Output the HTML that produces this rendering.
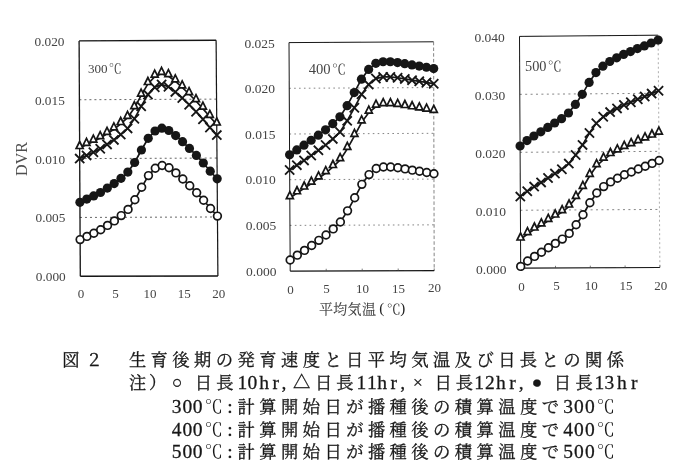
<!DOCTYPE html>
<html lang="ja"><head><meta charset="utf-8"><title>図2 生育後期の発育速度と日平均気温及び日長との関係</title>
<style>
html,body{margin:0;padding:0;background:#fff;}
body{width:700px;height:467px;overflow:hidden;font-family:"Liberation Serif",serif;}
svg{display:block;font-family:"Liberation Serif",serif;}
svg text{font-family:"Liberation Serif","Noto Serif CJK JP","Noto Serif CJK SC","Noto Sans CJK JP",serif;}
</style></head><body>
<svg width="700" height="467" viewBox="0 0 700 467">
<desc>図２　生育後期の発育速度と日平均気温及び日長との関係　注）○日長10hr, △日長11hr, ×日長12hr, ●日長13hr　300℃:計算開始日が播種後の積算温度で300℃　400℃:計算開始日が播種後の積算温度で400℃　500℃:計算開始日が播種後の積算温度で500℃</desc>
<rect width="700" height="467" fill="#fff"/>
<defs><filter id="soft" x="0" y="0" width="700" height="467" filterUnits="userSpaceOnUse"><feGaussianBlur stdDeviation="0.32"/></filter></defs>
<g filter="url(#soft)">
<line x1="79.40" y1="99.75" x2="216.55" y2="99.12" stroke="#555" stroke-width="0.9" stroke-dasharray="2 3"/>
<line x1="79.70" y1="158.60" x2="217.00" y2="158.05" stroke="#555" stroke-width="0.9" stroke-dasharray="2 3"/>
<line x1="80.00" y1="217.45" x2="217.45" y2="216.97" stroke="#555" stroke-width="0.9" stroke-dasharray="2 3"/>
<line x1="79.10" y1="40.90" x2="216.10" y2="40.20" stroke="#141414" stroke-width="1.4"/>
<line x1="216.10" y1="40.20" x2="217.90" y2="275.90" stroke="#141414" stroke-width="1.2"/>
<line x1="80.30" y1="276.30" x2="217.90" y2="275.90" stroke="#141414" stroke-width="1.5"/>
<line x1="79.10" y1="40.90" x2="80.30" y2="276.30" stroke="#141414" stroke-width="1.3"/>
<polyline fill="none" stroke="#141414" stroke-width="1.7" points="80.11,239.60 86.97,236.40 93.83,233.20 100.69,229.80 107.54,225.40 114.38,220.90 121.22,215.60 128.06,209.40 134.87,199.80 141.67,187.30 148.46,175.60 155.28,168.30 162.13,165.50 169.01,167.80 175.91,172.90 182.82,179.00 189.74,185.70 196.66,192.70 203.58,200.30 210.51,208.50 217.44,216.10"/>
<circle cx="80.11" cy="239.60" r="3.85" fill="#fff" stroke="#141414" stroke-width="1.7"/>
<circle cx="86.97" cy="236.40" r="3.85" fill="#fff" stroke="#141414" stroke-width="1.7"/>
<circle cx="93.83" cy="233.20" r="3.85" fill="#fff" stroke="#141414" stroke-width="1.7"/>
<circle cx="100.69" cy="229.80" r="3.85" fill="#fff" stroke="#141414" stroke-width="1.7"/>
<circle cx="107.54" cy="225.40" r="3.85" fill="#fff" stroke="#141414" stroke-width="1.7"/>
<circle cx="114.38" cy="220.90" r="3.85" fill="#fff" stroke="#141414" stroke-width="1.7"/>
<circle cx="121.22" cy="215.60" r="3.85" fill="#fff" stroke="#141414" stroke-width="1.7"/>
<circle cx="128.06" cy="209.40" r="3.85" fill="#fff" stroke="#141414" stroke-width="1.7"/>
<circle cx="134.87" cy="199.80" r="3.85" fill="#fff" stroke="#141414" stroke-width="1.7"/>
<circle cx="141.67" cy="187.30" r="3.85" fill="#fff" stroke="#141414" stroke-width="1.7"/>
<circle cx="148.46" cy="175.60" r="3.85" fill="#fff" stroke="#141414" stroke-width="1.7"/>
<circle cx="155.28" cy="168.30" r="3.85" fill="#fff" stroke="#141414" stroke-width="1.7"/>
<circle cx="162.13" cy="165.50" r="3.85" fill="#fff" stroke="#141414" stroke-width="1.7"/>
<circle cx="169.01" cy="167.80" r="3.85" fill="#fff" stroke="#141414" stroke-width="1.7"/>
<circle cx="175.91" cy="172.90" r="3.85" fill="#fff" stroke="#141414" stroke-width="1.7"/>
<circle cx="182.82" cy="179.00" r="3.85" fill="#fff" stroke="#141414" stroke-width="1.7"/>
<circle cx="189.74" cy="185.70" r="3.85" fill="#fff" stroke="#141414" stroke-width="1.7"/>
<circle cx="196.66" cy="192.70" r="3.85" fill="#fff" stroke="#141414" stroke-width="1.7"/>
<circle cx="203.58" cy="200.30" r="3.85" fill="#fff" stroke="#141414" stroke-width="1.7"/>
<circle cx="210.51" cy="208.50" r="3.85" fill="#fff" stroke="#141414" stroke-width="1.7"/>
<circle cx="217.44" cy="216.10" r="3.85" fill="#fff" stroke="#141414" stroke-width="1.7"/>
<polyline fill="none" stroke="#141414" stroke-width="1.7" points="79.65,147.90 86.49,144.70 93.34,141.50 100.18,138.10 107.02,133.70 113.86,129.20 120.69,123.90 127.51,117.70 134.31,108.10 141.09,95.60 147.88,83.90 154.68,76.60 161.52,73.80 168.39,76.10 175.28,81.20 182.18,87.30 189.08,94.00 195.99,101.00 202.90,108.60 209.83,116.80 216.74,124.40"/>
<path d="M79.65 141.50L83.15 148.50L76.15 148.50Z" fill="#fff" stroke="#141414" stroke-width="1.7" stroke-linejoin="miter"/>
<path d="M86.49 138.30L89.99 145.30L82.99 145.30Z" fill="#fff" stroke="#141414" stroke-width="1.7" stroke-linejoin="miter"/>
<path d="M93.34 135.10L96.84 142.10L89.84 142.10Z" fill="#fff" stroke="#141414" stroke-width="1.7" stroke-linejoin="miter"/>
<path d="M100.18 131.70L103.68 138.70L96.68 138.70Z" fill="#fff" stroke="#141414" stroke-width="1.7" stroke-linejoin="miter"/>
<path d="M107.02 127.30L110.52 134.30L103.52 134.30Z" fill="#fff" stroke="#141414" stroke-width="1.7" stroke-linejoin="miter"/>
<path d="M113.86 122.80L117.36 129.80L110.36 129.80Z" fill="#fff" stroke="#141414" stroke-width="1.7" stroke-linejoin="miter"/>
<path d="M120.69 117.50L124.19 124.50L117.19 124.50Z" fill="#fff" stroke="#141414" stroke-width="1.7" stroke-linejoin="miter"/>
<path d="M127.51 111.30L131.01 118.30L124.01 118.30Z" fill="#fff" stroke="#141414" stroke-width="1.7" stroke-linejoin="miter"/>
<path d="M134.31 101.70L137.81 108.70L130.81 108.70Z" fill="#fff" stroke="#141414" stroke-width="1.7" stroke-linejoin="miter"/>
<path d="M141.09 89.20L144.59 96.20L137.59 96.20Z" fill="#fff" stroke="#141414" stroke-width="1.7" stroke-linejoin="miter"/>
<path d="M147.88 77.50L151.38 84.50L144.38 84.50Z" fill="#fff" stroke="#141414" stroke-width="1.7" stroke-linejoin="miter"/>
<path d="M154.68 70.20L158.18 77.20L151.18 77.20Z" fill="#fff" stroke="#141414" stroke-width="1.7" stroke-linejoin="miter"/>
<path d="M161.52 67.40L165.02 74.40L158.02 74.40Z" fill="#fff" stroke="#141414" stroke-width="1.7" stroke-linejoin="miter"/>
<path d="M168.39 69.70L171.89 76.70L164.89 76.70Z" fill="#fff" stroke="#141414" stroke-width="1.7" stroke-linejoin="miter"/>
<path d="M175.28 74.80L178.78 81.80L171.78 81.80Z" fill="#fff" stroke="#141414" stroke-width="1.7" stroke-linejoin="miter"/>
<path d="M182.18 80.90L185.68 87.90L178.68 87.90Z" fill="#fff" stroke="#141414" stroke-width="1.7" stroke-linejoin="miter"/>
<path d="M189.08 87.60L192.58 94.60L185.58 94.60Z" fill="#fff" stroke="#141414" stroke-width="1.7" stroke-linejoin="miter"/>
<path d="M195.99 94.60L199.49 101.60L192.49 101.60Z" fill="#fff" stroke="#141414" stroke-width="1.7" stroke-linejoin="miter"/>
<path d="M202.90 102.20L206.40 109.20L199.40 109.20Z" fill="#fff" stroke="#141414" stroke-width="1.7" stroke-linejoin="miter"/>
<path d="M209.83 110.40L213.33 117.40L206.33 117.40Z" fill="#fff" stroke="#141414" stroke-width="1.7" stroke-linejoin="miter"/>
<path d="M216.74 118.00L220.24 125.00L213.24 125.00Z" fill="#fff" stroke="#141414" stroke-width="1.7" stroke-linejoin="miter"/>
<polyline fill="none" stroke="#141414" stroke-width="1.7" points="79.70,158.60 86.55,155.40 93.40,152.20 100.24,148.80 107.08,144.40 113.92,139.90 120.75,134.60 127.58,128.40 134.38,118.80 141.16,106.30 147.94,94.60 154.75,87.30 161.59,84.50 168.46,86.80 175.35,91.90 182.25,98.00 189.16,104.70 196.07,111.70 202.98,119.30 209.91,127.50 216.82,135.10"/>
<path d="M75.10 154.00L84.30 163.20M75.10 163.20L84.30 154.00" fill="none" stroke="#141414" stroke-width="1.8"/>
<path d="M81.95 150.80L91.15 160.00M81.95 160.00L91.15 150.80" fill="none" stroke="#141414" stroke-width="1.8"/>
<path d="M88.80 147.60L98.00 156.80M88.80 156.80L98.00 147.60" fill="none" stroke="#141414" stroke-width="1.8"/>
<path d="M95.64 144.20L104.84 153.40M95.64 153.40L104.84 144.20" fill="none" stroke="#141414" stroke-width="1.8"/>
<path d="M102.48 139.80L111.68 149.00M102.48 149.00L111.68 139.80" fill="none" stroke="#141414" stroke-width="1.8"/>
<path d="M109.32 135.30L118.52 144.50M109.32 144.50L118.52 135.30" fill="none" stroke="#141414" stroke-width="1.8"/>
<path d="M116.15 130.00L125.35 139.20M116.15 139.20L125.35 130.00" fill="none" stroke="#141414" stroke-width="1.8"/>
<path d="M122.98 123.80L132.18 133.00M122.98 133.00L132.18 123.80" fill="none" stroke="#141414" stroke-width="1.8"/>
<path d="M129.78 114.20L138.98 123.40M129.78 123.40L138.98 114.20" fill="none" stroke="#141414" stroke-width="1.8"/>
<path d="M136.56 101.70L145.76 110.90M136.56 110.90L145.76 101.70" fill="none" stroke="#141414" stroke-width="1.8"/>
<path d="M143.34 90.00L152.54 99.20M143.34 99.20L152.54 90.00" fill="none" stroke="#141414" stroke-width="1.8"/>
<path d="M150.15 82.70L159.35 91.90M150.15 91.90L159.35 82.70" fill="none" stroke="#141414" stroke-width="1.8"/>
<path d="M156.99 79.90L166.19 89.10M156.99 89.10L166.19 79.90" fill="none" stroke="#141414" stroke-width="1.8"/>
<path d="M163.86 82.20L173.06 91.40M163.86 91.40L173.06 82.20" fill="none" stroke="#141414" stroke-width="1.8"/>
<path d="M170.75 87.30L179.95 96.50M170.75 96.50L179.95 87.30" fill="none" stroke="#141414" stroke-width="1.8"/>
<path d="M177.65 93.40L186.85 102.60M177.65 102.60L186.85 93.40" fill="none" stroke="#141414" stroke-width="1.8"/>
<path d="M184.56 100.10L193.76 109.30M184.56 109.30L193.76 100.10" fill="none" stroke="#141414" stroke-width="1.8"/>
<path d="M191.47 107.10L200.67 116.30M191.47 116.30L200.67 107.10" fill="none" stroke="#141414" stroke-width="1.8"/>
<path d="M198.38 114.70L207.58 123.90M198.38 123.90L207.58 114.70" fill="none" stroke="#141414" stroke-width="1.8"/>
<path d="M205.31 122.90L214.51 132.10M205.31 132.10L214.51 122.90" fill="none" stroke="#141414" stroke-width="1.8"/>
<path d="M212.22 130.50L221.42 139.70M212.22 139.70L221.42 130.50" fill="none" stroke="#141414" stroke-width="1.8"/>
<polyline fill="none" stroke="#141414" stroke-width="1.7" points="79.92,202.30 86.78,199.10 93.63,195.90 100.48,192.50 107.33,188.10 114.17,183.60 121.01,178.30 127.84,172.10 134.65,162.50 141.43,150.00 148.22,138.30 155.04,131.00 161.88,128.20 168.76,130.50 175.65,135.60 182.56,141.70 189.47,148.40 196.39,155.40 203.31,163.00 210.23,171.20 217.16,178.80"/>
<circle cx="79.92" cy="202.30" r="4.6" fill="#141414"/>
<circle cx="86.78" cy="199.10" r="4.6" fill="#141414"/>
<circle cx="93.63" cy="195.90" r="4.6" fill="#141414"/>
<circle cx="100.48" cy="192.50" r="4.6" fill="#141414"/>
<circle cx="107.33" cy="188.10" r="4.6" fill="#141414"/>
<circle cx="114.17" cy="183.60" r="4.6" fill="#141414"/>
<circle cx="121.01" cy="178.30" r="4.6" fill="#141414"/>
<circle cx="127.84" cy="172.10" r="4.6" fill="#141414"/>
<circle cx="134.65" cy="162.50" r="4.6" fill="#141414"/>
<circle cx="141.43" cy="150.00" r="4.6" fill="#141414"/>
<circle cx="148.22" cy="138.30" r="4.6" fill="#141414"/>
<circle cx="155.04" cy="131.00" r="4.6" fill="#141414"/>
<circle cx="161.88" cy="128.20" r="4.6" fill="#141414"/>
<circle cx="168.76" cy="130.50" r="4.6" fill="#141414"/>
<circle cx="175.65" cy="135.60" r="4.6" fill="#141414"/>
<circle cx="182.56" cy="141.70" r="4.6" fill="#141414"/>
<circle cx="189.47" cy="148.40" r="4.6" fill="#141414"/>
<circle cx="196.39" cy="155.40" r="4.6" fill="#141414"/>
<circle cx="203.31" cy="163.00" r="4.6" fill="#141414"/>
<circle cx="210.23" cy="171.20" r="4.6" fill="#141414"/>
<circle cx="217.16" cy="178.80" r="4.6" fill="#141414"/>
<text x="34.60" y="45.70" font-size="13.3" fill="#444">0.020</text>
<text x="34.90" y="104.63" font-size="13.3" fill="#444">0.015</text>
<text x="35.20" y="163.56" font-size="13.3" fill="#444">0.010</text>
<text x="35.50" y="222.49" font-size="13.3" fill="#444">0.005</text>
<text x="35.80" y="281.42" font-size="13.3" fill="#444">0.000</text>
<text x="81.10" y="298.00" font-size="13" fill="#444" text-anchor="middle">0</text>
<text x="115.50" y="298.00" font-size="13" fill="#444" text-anchor="middle">5</text>
<text x="149.90" y="298.00" font-size="13" fill="#444" text-anchor="middle">10</text>
<text x="184.30" y="298.00" font-size="13" fill="#444" text-anchor="middle">15</text>
<text x="218.70" y="298.00" font-size="13" fill="#444" text-anchor="middle">20</text>
<text x="87.90" y="72.90" font-size="13.1" fill="#444">300</text>
<text x="108.70" y="73.10" font-size="13" fill="#444">℃</text>
<line x1="289.24" y1="88.30" x2="433.72" y2="87.56" stroke="#777" stroke-width="0.9" stroke-dasharray="1.6 3.3"/>
<line x1="289.48" y1="134.00" x2="433.84" y2="133.32" stroke="#777" stroke-width="0.9" stroke-dasharray="1.6 3.3"/>
<line x1="289.72" y1="179.70" x2="433.96" y2="179.08" stroke="#777" stroke-width="0.9" stroke-dasharray="1.6 3.3"/>
<line x1="289.96" y1="225.40" x2="434.08" y2="224.84" stroke="#777" stroke-width="0.9" stroke-dasharray="1.6 3.3"/>
<line x1="289.00" y1="42.60" x2="433.60" y2="41.80" stroke="#141414" stroke-width="1.0"/>
<line x1="433.60" y1="41.80" x2="434.20" y2="270.60" stroke="#777" stroke-width="0.9" stroke-dasharray="3.5 2.2"/>
<line x1="290.20" y1="271.10" x2="434.20" y2="270.60" stroke="#141414" stroke-width="1.2"/>
<line x1="289.00" y1="42.60" x2="290.20" y2="271.10" stroke="#141414" stroke-width="1.0"/>
<line x1="326.20" y1="268.78" x2="326.20" y2="270.98" stroke="#444" stroke-width="0.7"/>
<line x1="362.20" y1="268.65" x2="362.20" y2="270.85" stroke="#444" stroke-width="0.7"/>
<line x1="398.20" y1="268.53" x2="398.20" y2="270.73" stroke="#444" stroke-width="0.7"/>
<line x1="434.20" y1="268.40" x2="434.20" y2="270.60" stroke="#444" stroke-width="0.7"/>
<polyline fill="none" stroke="#141414" stroke-width="1.7" points="290.14,260.05 297.32,255.15 304.50,250.40 311.68,245.45 318.86,240.35 326.03,235.05 333.21,228.90 340.39,222.05 347.55,210.85 354.70,197.80 361.86,184.35 369.03,174.60 376.22,168.55 383.43,166.95 390.65,166.95 397.86,167.75 405.08,168.90 412.30,170.15 419.51,171.30 426.73,172.45 433.95,173.80"/>
<circle cx="290.14" cy="260.05" r="3.85" fill="#fff" stroke="#141414" stroke-width="1.7"/>
<circle cx="297.32" cy="255.15" r="3.85" fill="#fff" stroke="#141414" stroke-width="1.7"/>
<circle cx="304.50" cy="250.40" r="3.85" fill="#fff" stroke="#141414" stroke-width="1.7"/>
<circle cx="311.68" cy="245.45" r="3.85" fill="#fff" stroke="#141414" stroke-width="1.7"/>
<circle cx="318.86" cy="240.35" r="3.85" fill="#fff" stroke="#141414" stroke-width="1.7"/>
<circle cx="326.03" cy="235.05" r="3.85" fill="#fff" stroke="#141414" stroke-width="1.7"/>
<circle cx="333.21" cy="228.90" r="3.85" fill="#fff" stroke="#141414" stroke-width="1.7"/>
<circle cx="340.39" cy="222.05" r="3.85" fill="#fff" stroke="#141414" stroke-width="1.7"/>
<circle cx="347.55" cy="210.85" r="3.85" fill="#fff" stroke="#141414" stroke-width="1.7"/>
<circle cx="354.70" cy="197.80" r="3.85" fill="#fff" stroke="#141414" stroke-width="1.7"/>
<circle cx="361.86" cy="184.35" r="3.85" fill="#fff" stroke="#141414" stroke-width="1.7"/>
<circle cx="369.03" cy="174.60" r="3.85" fill="#fff" stroke="#141414" stroke-width="1.7"/>
<circle cx="376.22" cy="168.55" r="3.85" fill="#fff" stroke="#141414" stroke-width="1.7"/>
<circle cx="383.43" cy="166.95" r="3.85" fill="#fff" stroke="#141414" stroke-width="1.7"/>
<circle cx="390.65" cy="166.95" r="3.85" fill="#fff" stroke="#141414" stroke-width="1.7"/>
<circle cx="397.86" cy="167.75" r="3.85" fill="#fff" stroke="#141414" stroke-width="1.7"/>
<circle cx="405.08" cy="168.90" r="3.85" fill="#fff" stroke="#141414" stroke-width="1.7"/>
<circle cx="412.30" cy="170.15" r="3.85" fill="#fff" stroke="#141414" stroke-width="1.7"/>
<circle cx="419.51" cy="171.30" r="3.85" fill="#fff" stroke="#141414" stroke-width="1.7"/>
<circle cx="426.73" cy="172.45" r="3.85" fill="#fff" stroke="#141414" stroke-width="1.7"/>
<circle cx="433.95" cy="173.80" r="3.85" fill="#fff" stroke="#141414" stroke-width="1.7"/>
<polyline fill="none" stroke="#141414" stroke-width="1.7" points="289.82,198.05 297.00,193.15 304.19,188.40 311.37,183.45 318.56,178.35 325.75,173.05 332.94,166.90 340.12,160.05 347.29,148.85 354.45,135.80 361.62,122.35 368.80,112.60 376.00,106.55 383.21,104.95 390.43,104.95 397.66,105.75 404.88,106.90 412.11,108.15 419.33,109.30 426.56,110.45 433.78,111.80"/>
<path d="M289.82 191.65L293.32 198.65L286.32 198.65Z" fill="#fff" stroke="#141414" stroke-width="1.7" stroke-linejoin="miter"/>
<path d="M297.00 186.75L300.50 193.75L293.50 193.75Z" fill="#fff" stroke="#141414" stroke-width="1.7" stroke-linejoin="miter"/>
<path d="M304.19 182.00L307.69 189.00L300.69 189.00Z" fill="#fff" stroke="#141414" stroke-width="1.7" stroke-linejoin="miter"/>
<path d="M311.37 177.05L314.87 184.05L307.87 184.05Z" fill="#fff" stroke="#141414" stroke-width="1.7" stroke-linejoin="miter"/>
<path d="M318.56 171.95L322.06 178.95L315.06 178.95Z" fill="#fff" stroke="#141414" stroke-width="1.7" stroke-linejoin="miter"/>
<path d="M325.75 166.65L329.25 173.65L322.25 173.65Z" fill="#fff" stroke="#141414" stroke-width="1.7" stroke-linejoin="miter"/>
<path d="M332.94 160.50L336.44 167.50L329.44 167.50Z" fill="#fff" stroke="#141414" stroke-width="1.7" stroke-linejoin="miter"/>
<path d="M340.12 153.65L343.62 160.65L336.62 160.65Z" fill="#fff" stroke="#141414" stroke-width="1.7" stroke-linejoin="miter"/>
<path d="M347.29 142.45L350.79 149.45L343.79 149.45Z" fill="#fff" stroke="#141414" stroke-width="1.7" stroke-linejoin="miter"/>
<path d="M354.45 129.40L357.95 136.40L350.95 136.40Z" fill="#fff" stroke="#141414" stroke-width="1.7" stroke-linejoin="miter"/>
<path d="M361.62 115.95L365.12 122.95L358.12 122.95Z" fill="#fff" stroke="#141414" stroke-width="1.7" stroke-linejoin="miter"/>
<path d="M368.80 106.20L372.30 113.20L365.30 113.20Z" fill="#fff" stroke="#141414" stroke-width="1.7" stroke-linejoin="miter"/>
<path d="M376.00 100.15L379.50 107.15L372.50 107.15Z" fill="#fff" stroke="#141414" stroke-width="1.7" stroke-linejoin="miter"/>
<path d="M383.21 98.55L386.71 105.55L379.71 105.55Z" fill="#fff" stroke="#141414" stroke-width="1.7" stroke-linejoin="miter"/>
<path d="M390.43 98.55L393.93 105.55L386.93 105.55Z" fill="#fff" stroke="#141414" stroke-width="1.7" stroke-linejoin="miter"/>
<path d="M397.66 99.35L401.16 106.35L394.16 106.35Z" fill="#fff" stroke="#141414" stroke-width="1.7" stroke-linejoin="miter"/>
<path d="M404.88 100.50L408.38 107.50L401.38 107.50Z" fill="#fff" stroke="#141414" stroke-width="1.7" stroke-linejoin="miter"/>
<path d="M412.11 101.75L415.61 108.75L408.61 108.75Z" fill="#fff" stroke="#141414" stroke-width="1.7" stroke-linejoin="miter"/>
<path d="M419.33 102.90L422.83 109.90L415.83 109.90Z" fill="#fff" stroke="#141414" stroke-width="1.7" stroke-linejoin="miter"/>
<path d="M426.56 104.05L430.06 111.05L423.06 111.05Z" fill="#fff" stroke="#141414" stroke-width="1.7" stroke-linejoin="miter"/>
<path d="M433.78 105.40L437.28 112.40L430.28 112.40Z" fill="#fff" stroke="#141414" stroke-width="1.7" stroke-linejoin="miter"/>
<polyline fill="none" stroke="#141414" stroke-width="1.7" points="289.67,170.05 296.86,165.15 304.05,160.40 311.24,155.45 318.43,150.35 325.62,145.05 332.81,138.90 340.00,132.05 347.17,120.85 354.34,107.80 361.51,94.35 368.69,84.60 375.89,78.55 383.11,76.95 390.34,76.95 397.57,77.75 404.80,78.90 412.03,80.15 419.25,81.30 426.48,82.45 433.71,83.80"/>
<path d="M285.07 165.45L294.27 174.65M285.07 174.65L294.27 165.45" fill="none" stroke="#141414" stroke-width="1.8"/>
<path d="M292.26 160.55L301.46 169.75M292.26 169.75L301.46 160.55" fill="none" stroke="#141414" stroke-width="1.8"/>
<path d="M299.45 155.80L308.65 165.00M299.45 165.00L308.65 155.80" fill="none" stroke="#141414" stroke-width="1.8"/>
<path d="M306.64 150.85L315.84 160.05M306.64 160.05L315.84 150.85" fill="none" stroke="#141414" stroke-width="1.8"/>
<path d="M313.83 145.75L323.03 154.95M313.83 154.95L323.03 145.75" fill="none" stroke="#141414" stroke-width="1.8"/>
<path d="M321.02 140.45L330.22 149.65M321.02 149.65L330.22 140.45" fill="none" stroke="#141414" stroke-width="1.8"/>
<path d="M328.21 134.30L337.41 143.50M328.21 143.50L337.41 134.30" fill="none" stroke="#141414" stroke-width="1.8"/>
<path d="M335.40 127.45L344.60 136.65M335.40 136.65L344.60 127.45" fill="none" stroke="#141414" stroke-width="1.8"/>
<path d="M342.57 116.25L351.77 125.45M342.57 125.45L351.77 116.25" fill="none" stroke="#141414" stroke-width="1.8"/>
<path d="M349.74 103.20L358.94 112.40M349.74 112.40L358.94 103.20" fill="none" stroke="#141414" stroke-width="1.8"/>
<path d="M356.91 89.75L366.11 98.95M356.91 98.95L366.11 89.75" fill="none" stroke="#141414" stroke-width="1.8"/>
<path d="M364.09 80.00L373.29 89.20M364.09 89.20L373.29 80.00" fill="none" stroke="#141414" stroke-width="1.8"/>
<path d="M371.29 73.95L380.49 83.15M371.29 83.15L380.49 73.95" fill="none" stroke="#141414" stroke-width="1.8"/>
<path d="M378.51 72.35L387.71 81.55M378.51 81.55L387.71 72.35" fill="none" stroke="#141414" stroke-width="1.8"/>
<path d="M385.74 72.35L394.94 81.55M385.74 81.55L394.94 72.35" fill="none" stroke="#141414" stroke-width="1.8"/>
<path d="M392.97 73.15L402.17 82.35M392.97 82.35L402.17 73.15" fill="none" stroke="#141414" stroke-width="1.8"/>
<path d="M400.20 74.30L409.40 83.50M400.20 83.50L409.40 74.30" fill="none" stroke="#141414" stroke-width="1.8"/>
<path d="M407.43 75.55L416.63 84.75M407.43 84.75L416.63 75.55" fill="none" stroke="#141414" stroke-width="1.8"/>
<path d="M414.65 76.70L423.85 85.90M414.65 85.90L423.85 76.70" fill="none" stroke="#141414" stroke-width="1.8"/>
<path d="M421.88 77.85L431.08 87.05M421.88 87.05L431.08 77.85" fill="none" stroke="#141414" stroke-width="1.8"/>
<path d="M429.11 79.20L438.31 88.40M429.11 88.40L438.31 79.20" fill="none" stroke="#141414" stroke-width="1.8"/>
<polyline fill="none" stroke="#141414" stroke-width="1.7" points="289.59,154.85 296.78,149.95 303.97,145.20 311.16,140.25 318.36,135.15 325.55,129.85 332.74,123.70 339.93,116.85 347.11,105.65 354.27,92.60 361.45,79.15 368.63,69.40 375.84,63.35 383.06,61.75 390.29,61.75 397.52,62.55 404.75,63.70 411.98,64.95 419.21,66.10 426.44,67.25 433.67,68.60"/>
<circle cx="289.59" cy="154.85" r="4.6" fill="#141414"/>
<circle cx="296.78" cy="149.95" r="4.6" fill="#141414"/>
<circle cx="303.97" cy="145.20" r="4.6" fill="#141414"/>
<circle cx="311.16" cy="140.25" r="4.6" fill="#141414"/>
<circle cx="318.36" cy="135.15" r="4.6" fill="#141414"/>
<circle cx="325.55" cy="129.85" r="4.6" fill="#141414"/>
<circle cx="332.74" cy="123.70" r="4.6" fill="#141414"/>
<circle cx="339.93" cy="116.85" r="4.6" fill="#141414"/>
<circle cx="347.11" cy="105.65" r="4.6" fill="#141414"/>
<circle cx="354.27" cy="92.60" r="4.6" fill="#141414"/>
<circle cx="361.45" cy="79.15" r="4.6" fill="#141414"/>
<circle cx="368.63" cy="69.40" r="4.6" fill="#141414"/>
<circle cx="375.84" cy="63.35" r="4.6" fill="#141414"/>
<circle cx="383.06" cy="61.75" r="4.6" fill="#141414"/>
<circle cx="390.29" cy="61.75" r="4.6" fill="#141414"/>
<circle cx="397.52" cy="62.55" r="4.6" fill="#141414"/>
<circle cx="404.75" cy="63.70" r="4.6" fill="#141414"/>
<circle cx="411.98" cy="64.95" r="4.6" fill="#141414"/>
<circle cx="419.21" cy="66.10" r="4.6" fill="#141414"/>
<circle cx="426.44" cy="67.25" r="4.6" fill="#141414"/>
<circle cx="433.67" cy="68.60" r="4.6" fill="#141414"/>
<text x="244.40" y="47.80" font-size="13.5" fill="#444">0.025</text>
<text x="244.74" y="93.35" font-size="13.5" fill="#444">0.020</text>
<text x="245.08" y="138.90" font-size="13.5" fill="#444">0.015</text>
<text x="245.42" y="184.45" font-size="13.5" fill="#444">0.010</text>
<text x="245.76" y="230.00" font-size="13.5" fill="#444">0.005</text>
<text x="246.10" y="275.55" font-size="13.5" fill="#444">0.000</text>
<text x="290.60" y="293.50" font-size="13" fill="#444" text-anchor="middle">0</text>
<text x="326.60" y="293.20" font-size="13" fill="#444" text-anchor="middle">5</text>
<text x="362.60" y="292.90" font-size="13" fill="#444" text-anchor="middle">10</text>
<text x="398.60" y="292.60" font-size="13" fill="#444" text-anchor="middle">15</text>
<text x="434.60" y="292.30" font-size="13" fill="#444" text-anchor="middle">20</text>
<text x="308.70" y="74.00" font-size="14.6" fill="#444">400</text>
<text x="332.00" y="74.20" font-size="14" fill="#444">℃</text>
<line x1="519.80" y1="94.35" x2="658.55" y2="93.28" stroke="#777" stroke-width="0.9" stroke-dasharray="2 3.4"/>
<line x1="520.10" y1="152.30" x2="659.00" y2="151.35" stroke="#777" stroke-width="0.9" stroke-dasharray="2 3.4"/>
<line x1="520.40" y1="210.25" x2="659.45" y2="209.43" stroke="#777" stroke-width="0.9" stroke-dasharray="2 3.4"/>
<line x1="519.50" y1="36.40" x2="658.10" y2="35.20" stroke="#141414" stroke-width="1.0"/>
<line x1="658.10" y1="35.20" x2="659.90" y2="267.50" stroke="#999" stroke-width="0.8" stroke-dasharray="2 2.5"/>
<line x1="520.70" y1="268.20" x2="659.90" y2="267.50" stroke="#141414" stroke-width="1.2"/>
<line x1="519.50" y1="36.40" x2="520.70" y2="268.20" stroke="#141414" stroke-width="1.0"/>
<line x1="555.50" y1="265.82" x2="555.50" y2="268.02" stroke="#444" stroke-width="0.7"/>
<line x1="590.30" y1="265.65" x2="590.30" y2="267.85" stroke="#444" stroke-width="0.7"/>
<line x1="625.10" y1="265.48" x2="625.10" y2="267.68" stroke="#444" stroke-width="0.7"/>
<line x1="659.90" y1="265.30" x2="659.90" y2="267.50" stroke="#444" stroke-width="0.7"/>
<polyline fill="none" stroke="#141414" stroke-width="1.7" points="520.69,266.40 527.62,261.00 534.56,256.40 541.49,252.20 548.42,247.80 555.36,243.40 562.29,239.10 569.21,233.40 576.11,224.80 583.00,214.70 589.88,202.80 596.77,193.00 603.67,186.60 610.59,181.90 617.52,178.20 624.44,174.80 631.37,172.00 638.29,169.00 645.22,166.30 652.15,163.40 659.07,160.50"/>
<circle cx="520.69" cy="266.40" r="3.85" fill="#fff" stroke="#141414" stroke-width="1.7"/>
<circle cx="527.62" cy="261.00" r="3.85" fill="#fff" stroke="#141414" stroke-width="1.7"/>
<circle cx="534.56" cy="256.40" r="3.85" fill="#fff" stroke="#141414" stroke-width="1.7"/>
<circle cx="541.49" cy="252.20" r="3.85" fill="#fff" stroke="#141414" stroke-width="1.7"/>
<circle cx="548.42" cy="247.80" r="3.85" fill="#fff" stroke="#141414" stroke-width="1.7"/>
<circle cx="555.36" cy="243.40" r="3.85" fill="#fff" stroke="#141414" stroke-width="1.7"/>
<circle cx="562.29" cy="239.10" r="3.85" fill="#fff" stroke="#141414" stroke-width="1.7"/>
<circle cx="569.21" cy="233.40" r="3.85" fill="#fff" stroke="#141414" stroke-width="1.7"/>
<circle cx="576.11" cy="224.80" r="3.85" fill="#fff" stroke="#141414" stroke-width="1.7"/>
<circle cx="583.00" cy="214.70" r="3.85" fill="#fff" stroke="#141414" stroke-width="1.7"/>
<circle cx="589.88" cy="202.80" r="3.85" fill="#fff" stroke="#141414" stroke-width="1.7"/>
<circle cx="596.77" cy="193.00" r="3.85" fill="#fff" stroke="#141414" stroke-width="1.7"/>
<circle cx="603.67" cy="186.60" r="3.85" fill="#fff" stroke="#141414" stroke-width="1.7"/>
<circle cx="610.59" cy="181.90" r="3.85" fill="#fff" stroke="#141414" stroke-width="1.7"/>
<circle cx="617.52" cy="178.20" r="3.85" fill="#fff" stroke="#141414" stroke-width="1.7"/>
<circle cx="624.44" cy="174.80" r="3.85" fill="#fff" stroke="#141414" stroke-width="1.7"/>
<circle cx="631.37" cy="172.00" r="3.85" fill="#fff" stroke="#141414" stroke-width="1.7"/>
<circle cx="638.29" cy="169.00" r="3.85" fill="#fff" stroke="#141414" stroke-width="1.7"/>
<circle cx="645.22" cy="166.30" r="3.85" fill="#fff" stroke="#141414" stroke-width="1.7"/>
<circle cx="652.15" cy="163.40" r="3.85" fill="#fff" stroke="#141414" stroke-width="1.7"/>
<circle cx="659.07" cy="160.50" r="3.85" fill="#fff" stroke="#141414" stroke-width="1.7"/>
<polyline fill="none" stroke="#141414" stroke-width="1.7" points="520.55,239.40 527.48,234.00 534.41,229.40 541.34,225.20 548.27,220.80 555.20,216.40 562.13,212.10 569.05,206.40 575.94,197.80 582.83,187.70 589.70,175.80 596.59,166.00 603.49,159.60 610.41,154.90 617.33,151.20 624.25,147.80 631.17,145.00 638.10,142.00 645.02,139.30 651.94,136.40 658.86,133.50"/>
<path d="M520.55 233.00L524.05 240.00L517.05 240.00Z" fill="#fff" stroke="#141414" stroke-width="1.7" stroke-linejoin="miter"/>
<path d="M527.48 227.60L530.98 234.60L523.98 234.60Z" fill="#fff" stroke="#141414" stroke-width="1.7" stroke-linejoin="miter"/>
<path d="M534.41 223.00L537.91 230.00L530.91 230.00Z" fill="#fff" stroke="#141414" stroke-width="1.7" stroke-linejoin="miter"/>
<path d="M541.34 218.80L544.84 225.80L537.84 225.80Z" fill="#fff" stroke="#141414" stroke-width="1.7" stroke-linejoin="miter"/>
<path d="M548.27 214.40L551.77 221.40L544.77 221.40Z" fill="#fff" stroke="#141414" stroke-width="1.7" stroke-linejoin="miter"/>
<path d="M555.20 210.00L558.70 217.00L551.70 217.00Z" fill="#fff" stroke="#141414" stroke-width="1.7" stroke-linejoin="miter"/>
<path d="M562.13 205.70L565.63 212.70L558.63 212.70Z" fill="#fff" stroke="#141414" stroke-width="1.7" stroke-linejoin="miter"/>
<path d="M569.05 200.00L572.55 207.00L565.55 207.00Z" fill="#fff" stroke="#141414" stroke-width="1.7" stroke-linejoin="miter"/>
<path d="M575.94 191.40L579.44 198.40L572.44 198.40Z" fill="#fff" stroke="#141414" stroke-width="1.7" stroke-linejoin="miter"/>
<path d="M582.83 181.30L586.33 188.30L579.33 188.30Z" fill="#fff" stroke="#141414" stroke-width="1.7" stroke-linejoin="miter"/>
<path d="M589.70 169.40L593.20 176.40L586.20 176.40Z" fill="#fff" stroke="#141414" stroke-width="1.7" stroke-linejoin="miter"/>
<path d="M596.59 159.60L600.09 166.60L593.09 166.60Z" fill="#fff" stroke="#141414" stroke-width="1.7" stroke-linejoin="miter"/>
<path d="M603.49 153.20L606.99 160.20L599.99 160.20Z" fill="#fff" stroke="#141414" stroke-width="1.7" stroke-linejoin="miter"/>
<path d="M610.41 148.50L613.91 155.50L606.91 155.50Z" fill="#fff" stroke="#141414" stroke-width="1.7" stroke-linejoin="miter"/>
<path d="M617.33 144.80L620.83 151.80L613.83 151.80Z" fill="#fff" stroke="#141414" stroke-width="1.7" stroke-linejoin="miter"/>
<path d="M624.25 141.40L627.75 148.40L620.75 148.40Z" fill="#fff" stroke="#141414" stroke-width="1.7" stroke-linejoin="miter"/>
<path d="M631.17 138.60L634.67 145.60L627.67 145.60Z" fill="#fff" stroke="#141414" stroke-width="1.7" stroke-linejoin="miter"/>
<path d="M638.10 135.60L641.60 142.60L634.60 142.60Z" fill="#fff" stroke="#141414" stroke-width="1.7" stroke-linejoin="miter"/>
<path d="M645.02 132.90L648.52 139.90L641.52 139.90Z" fill="#fff" stroke="#141414" stroke-width="1.7" stroke-linejoin="miter"/>
<path d="M651.94 130.00L655.44 137.00L648.44 137.00Z" fill="#fff" stroke="#141414" stroke-width="1.7" stroke-linejoin="miter"/>
<path d="M658.86 127.10L662.36 134.10L655.36 134.10Z" fill="#fff" stroke="#141414" stroke-width="1.7" stroke-linejoin="miter"/>
<polyline fill="none" stroke="#141414" stroke-width="1.7" points="520.33,196.60 527.25,191.20 534.18,186.60 541.10,182.40 548.03,178.00 554.95,173.60 561.87,169.30 568.79,163.60 575.68,155.00 582.56,144.90 589.43,133.00 596.31,123.20 603.21,116.80 610.11,112.10 617.03,108.40 623.94,105.00 630.86,102.20 637.78,99.20 644.70,96.50 651.61,93.60 658.53,90.70"/>
<path d="M515.73 192.00L524.93 201.20M515.73 201.20L524.93 192.00" fill="none" stroke="#141414" stroke-width="1.8"/>
<path d="M522.65 186.60L531.85 195.80M522.65 195.80L531.85 186.60" fill="none" stroke="#141414" stroke-width="1.8"/>
<path d="M529.58 182.00L538.78 191.20M529.58 191.20L538.78 182.00" fill="none" stroke="#141414" stroke-width="1.8"/>
<path d="M536.50 177.80L545.70 187.00M536.50 187.00L545.70 177.80" fill="none" stroke="#141414" stroke-width="1.8"/>
<path d="M543.43 173.40L552.63 182.60M543.43 182.60L552.63 173.40" fill="none" stroke="#141414" stroke-width="1.8"/>
<path d="M550.35 169.00L559.55 178.20M550.35 178.20L559.55 169.00" fill="none" stroke="#141414" stroke-width="1.8"/>
<path d="M557.27 164.70L566.47 173.90M557.27 173.90L566.47 164.70" fill="none" stroke="#141414" stroke-width="1.8"/>
<path d="M564.19 159.00L573.39 168.20M564.19 168.20L573.39 159.00" fill="none" stroke="#141414" stroke-width="1.8"/>
<path d="M571.08 150.40L580.28 159.60M571.08 159.60L580.28 150.40" fill="none" stroke="#141414" stroke-width="1.8"/>
<path d="M577.96 140.30L587.16 149.50M577.96 149.50L587.16 140.30" fill="none" stroke="#141414" stroke-width="1.8"/>
<path d="M584.83 128.40L594.03 137.60M584.83 137.60L594.03 128.40" fill="none" stroke="#141414" stroke-width="1.8"/>
<path d="M591.71 118.60L600.91 127.80M591.71 127.80L600.91 118.60" fill="none" stroke="#141414" stroke-width="1.8"/>
<path d="M598.61 112.20L607.81 121.40M598.61 121.40L607.81 112.20" fill="none" stroke="#141414" stroke-width="1.8"/>
<path d="M605.51 107.50L614.71 116.70M605.51 116.70L614.71 107.50" fill="none" stroke="#141414" stroke-width="1.8"/>
<path d="M612.43 103.80L621.63 113.00M612.43 113.00L621.63 103.80" fill="none" stroke="#141414" stroke-width="1.8"/>
<path d="M619.34 100.40L628.54 109.60M619.34 109.60L628.54 100.40" fill="none" stroke="#141414" stroke-width="1.8"/>
<path d="M626.26 97.60L635.46 106.80M626.26 106.80L635.46 97.60" fill="none" stroke="#141414" stroke-width="1.8"/>
<path d="M633.18 94.60L642.38 103.80M633.18 103.80L642.38 94.60" fill="none" stroke="#141414" stroke-width="1.8"/>
<path d="M640.10 91.90L649.30 101.10M640.10 101.10L649.30 91.90" fill="none" stroke="#141414" stroke-width="1.8"/>
<path d="M647.01 89.00L656.21 98.20M647.01 98.20L656.21 89.00" fill="none" stroke="#141414" stroke-width="1.8"/>
<path d="M653.93 86.10L663.13 95.30M653.93 95.30L663.13 86.10" fill="none" stroke="#141414" stroke-width="1.8"/>
<polyline fill="none" stroke="#141414" stroke-width="1.7" points="520.07,146.00 526.98,140.60 533.90,136.00 540.82,131.80 547.74,127.40 554.66,123.00 561.57,118.70 568.48,113.00 575.37,104.40 582.24,94.30 589.10,82.40 595.97,72.60 602.87,66.20 609.77,61.50 616.68,57.80 623.58,54.40 630.50,51.60 637.41,48.60 644.32,45.90 651.23,43.00 658.14,40.10"/>
<circle cx="520.07" cy="146.00" r="4.6" fill="#141414"/>
<circle cx="526.98" cy="140.60" r="4.6" fill="#141414"/>
<circle cx="533.90" cy="136.00" r="4.6" fill="#141414"/>
<circle cx="540.82" cy="131.80" r="4.6" fill="#141414"/>
<circle cx="547.74" cy="127.40" r="4.6" fill="#141414"/>
<circle cx="554.66" cy="123.00" r="4.6" fill="#141414"/>
<circle cx="561.57" cy="118.70" r="4.6" fill="#141414"/>
<circle cx="568.48" cy="113.00" r="4.6" fill="#141414"/>
<circle cx="575.37" cy="104.40" r="4.6" fill="#141414"/>
<circle cx="582.24" cy="94.30" r="4.6" fill="#141414"/>
<circle cx="589.10" cy="82.40" r="4.6" fill="#141414"/>
<circle cx="595.97" cy="72.60" r="4.6" fill="#141414"/>
<circle cx="602.87" cy="66.20" r="4.6" fill="#141414"/>
<circle cx="609.77" cy="61.50" r="4.6" fill="#141414"/>
<circle cx="616.68" cy="57.80" r="4.6" fill="#141414"/>
<circle cx="623.58" cy="54.40" r="4.6" fill="#141414"/>
<circle cx="630.50" cy="51.60" r="4.6" fill="#141414"/>
<circle cx="637.41" cy="48.60" r="4.6" fill="#141414"/>
<circle cx="644.32" cy="45.90" r="4.6" fill="#141414"/>
<circle cx="651.23" cy="43.00" r="4.6" fill="#141414"/>
<circle cx="658.14" cy="40.10" r="4.6" fill="#141414"/>
<text x="474.40" y="41.60" font-size="13.5" fill="#444">0.040</text>
<text x="474.82" y="99.67" font-size="13.5" fill="#444">0.030</text>
<text x="475.24" y="157.74" font-size="13.5" fill="#444">0.020</text>
<text x="475.66" y="215.81" font-size="13.5" fill="#444">0.010</text>
<text x="476.08" y="273.88" font-size="13.5" fill="#444">0.000</text>
<text x="521.60" y="290.60" font-size="13" fill="#444" text-anchor="middle">0</text>
<text x="556.40" y="290.48" font-size="13" fill="#444" text-anchor="middle">5</text>
<text x="591.20" y="290.35" font-size="13" fill="#444" text-anchor="middle">10</text>
<text x="626.00" y="290.23" font-size="13" fill="#444" text-anchor="middle">15</text>
<text x="660.80" y="290.10" font-size="13" fill="#444" text-anchor="middle">20</text>
<text x="525.00" y="71.00" font-size="14.3" fill="#444">500</text>
<text x="547.70" y="71.20" font-size="14" fill="#444">℃</text>
<text transform="translate(27.30 159.00) rotate(-90)" x="0" y="0" font-size="16" fill="#505050" text-anchor="middle">DVR</text>
<text x="319.00" y="313.90" font-size="14" letter-spacing="0.3" fill="#3a3a3a" stroke="#3a3a3a" stroke-width="0.08">平均気温</text>
<text x="379.20" y="313.40" font-size="15" fill="#222">(</text>
<text x="386.80" y="313.60" font-size="14" fill="#333">℃</text>
<text x="400.20" y="313.40" font-size="15" fill="#222">)</text>
<text x="62.20 85.40" y="366.40" font-size="17.3" fill="#161616" stroke="#161616" stroke-width="0.3">図２</text>
<text x="128.90" y="366.40" font-size="17.3" letter-spacing="4.44" fill="#161616" stroke="#161616" stroke-width="0.3">生育後期の発育速度と日平均気温及び日長との関係</text>
<text x="128.90 149.00 172.10 194.70 216.30" y="389.30 389.30 388.10 389.30 389.30" font-size="17.3" fill="#161616" stroke="#161616" stroke-width="0.3">注）○日長</text>
<text x="237.42 247.52 259.22 272.45 281.56" y="389.10" font-size="19.5" fill="#161616" stroke="#161616" stroke-width="0.27">10hr,</text>
<text x="293.00 315.10 336.30" y="388.10 389.30 389.30" font-size="17.3" fill="#161616" stroke="#161616" stroke-width="0.3">△日長</text>
<text x="356.42 366.92 377.32 390.55 400.16" y="389.10" font-size="19.5" fill="#161616" stroke="#161616" stroke-width="0.27">11hr,</text>
<text x="412.90 434.60 455.80" y="388.10 389.30 389.30" font-size="17.3" fill="#161616" stroke="#161616" stroke-width="0.3">×日長</text>
<text x="474.32 485.12 496.12 509.25 518.86" y="389.10" font-size="19.5" fill="#161616" stroke="#161616" stroke-width="0.27">12hr,</text>
<text x="531.80 553.80 575.40" y="388.10 389.30 389.30" font-size="17.3" fill="#161616" stroke="#161616" stroke-width="0.3">●日長</text>
<text x="594.62 604.52 616.92 631.05" y="389.10" font-size="19.5" fill="#161616" stroke="#161616" stroke-width="0.27">13hr</text>
<text x="171.82 182.52 192.82" y="412.50" font-size="19.5" fill="#161616" stroke="#161616" stroke-width="0.27">300</text>
<text x="204.80" y="412.50" font-size="18" fill="#161616">℃</text>
<text x="227.19" y="412.50" font-size="19.5" fill="#161616" stroke="#161616" stroke-width="0.27">:</text>
<text x="237.50" y="412.70" font-size="17.3" letter-spacing="4.45" fill="#161616" stroke="#161616" stroke-width="0.3">計算開始日が播種後の積算温度で</text>
<text x="563.32 574.12 585.12" y="412.50" font-size="19.5" fill="#161616" stroke="#161616" stroke-width="0.27">300</text>
<text x="596.80" y="412.50" font-size="18" fill="#161616">℃</text>
<text x="171.82 182.52 192.82" y="435.80" font-size="19.5" fill="#161616" stroke="#161616" stroke-width="0.27">400</text>
<text x="204.80" y="435.80" font-size="18" fill="#161616">℃</text>
<text x="227.19" y="435.80" font-size="19.5" fill="#161616" stroke="#161616" stroke-width="0.27">:</text>
<text x="237.50" y="436.00" font-size="17.3" letter-spacing="4.45" fill="#161616" stroke="#161616" stroke-width="0.3">計算開始日が播種後の積算温度で</text>
<text x="563.32 574.12 585.12" y="435.80" font-size="19.5" fill="#161616" stroke="#161616" stroke-width="0.27">400</text>
<text x="596.80" y="435.80" font-size="18" fill="#161616">℃</text>
<text x="171.82 182.52 192.82" y="458.10" font-size="19.5" fill="#161616" stroke="#161616" stroke-width="0.27">500</text>
<text x="204.80" y="458.10" font-size="18" fill="#161616">℃</text>
<text x="227.19" y="458.10" font-size="19.5" fill="#161616" stroke="#161616" stroke-width="0.27">:</text>
<text x="237.50" y="458.30" font-size="17.3" letter-spacing="4.45" fill="#161616" stroke="#161616" stroke-width="0.3">計算開始日が播種後の積算温度で</text>
<text x="563.32 574.12 585.12" y="458.10" font-size="19.5" fill="#161616" stroke="#161616" stroke-width="0.27">500</text>
<text x="596.80" y="458.10" font-size="18" fill="#161616">℃</text>
</g>
</svg>
</body></html>
